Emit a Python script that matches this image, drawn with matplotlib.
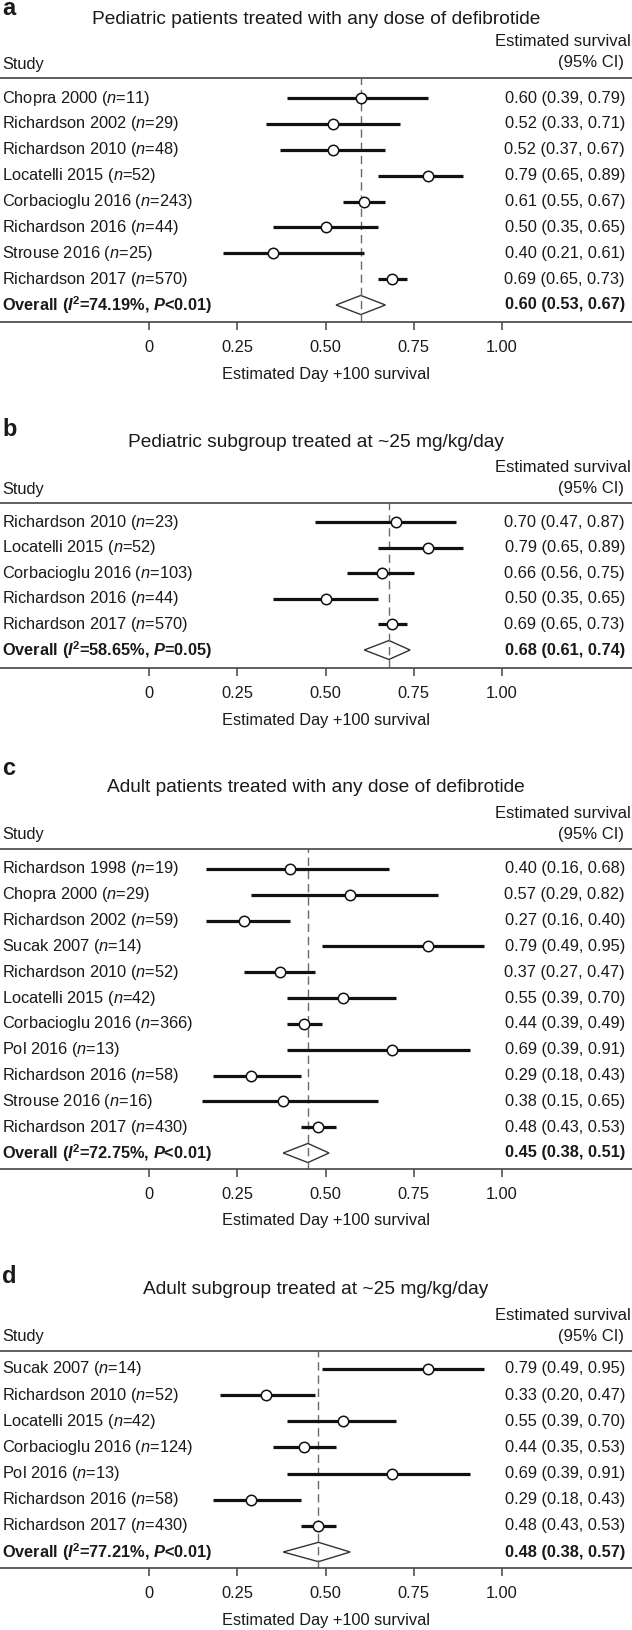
import matplotlib
matplotlib.use("Agg")
import matplotlib.pyplot as plt
from matplotlib.patches import Polygon

plt.rcParams['font.family'] = ['Liberation Sans', 'DejaVu Sans']
plt.rcParams['mathtext.fontset'] = 'custom'
plt.rcParams['mathtext.rm'] = 'Liberation Sans'
plt.rcParams['mathtext.it'] = 'Liberation Sans:italic'
plt.rcParams['mathtext.bf'] = 'Liberation Sans:bold'
plt.rcParams['mathtext.bfit'] = 'Liberation Sans:italic:bold'

# ---------------- data ----------------
titles = [
    "Pediatric patients treated with any dose of defibrotide",
    "Pediatric subgroup treated at ~25 mg/kg/day",
    "Adult patients treated with any dose of defibrotide",
    "Adult subgroup treated at ~25 mg/kg/day",
]
panel_letters = ["a", "b", "c", "d"]

studies_a = ["Chopra 2000", "Richardson 2002", "Richardson 2010", "Locatelli 2015",
             "Corbacioglu 2016", "Richardson 2016", "Strouse 2016", "Richardson 2017"]
n_a = [11, 29, 48, 52, 243, 44, 25, 570]
est_a = [0.60, 0.52, 0.52, 0.79, 0.61, 0.50, 0.35, 0.69]
lo_a = [0.39, 0.33, 0.37, 0.65, 0.55, 0.35, 0.21, 0.65]
hi_a = [0.79, 0.71, 0.67, 0.89, 0.67, 0.65, 0.61, 0.73]
ci_text_a = ["0.60 (0.39, 0.79)", "0.52 (0.33, 0.71)", "0.52 (0.37, 0.67)", "0.79 (0.65, 0.89)",
             "0.61 (0.55, 0.67)", "0.50 (0.35, 0.65)", "0.40 (0.21, 0.61)", "0.69 (0.65, 0.73)"]
overall_a = (0.60, 0.53, 0.67)
overall_text_a = "0.60 (0.53, 0.67)"
i2_a, p_a = "74.19%", "<0.01"

studies_b = ["Richardson 2010", "Locatelli 2015", "Corbacioglu 2016", "Richardson 2016", "Richardson 2017"]
n_b = [23, 52, 103, 44, 570]
est_b = [0.70, 0.79, 0.66, 0.50, 0.69]
lo_b = [0.47, 0.65, 0.56, 0.35, 0.65]
hi_b = [0.87, 0.89, 0.75, 0.65, 0.73]
ci_text_b = ["0.70 (0.47, 0.87)", "0.79 (0.65, 0.89)", "0.66 (0.56, 0.75)",
             "0.50 (0.35, 0.65)", "0.69 (0.65, 0.73)"]
overall_b = (0.68, 0.61, 0.74)
overall_text_b = "0.68 (0.61, 0.74)"
i2_b, p_b = "58.65%", "=0.05"

studies_c = ["Richardson 1998", "Chopra 2000", "Richardson 2002", "Sucak 2007", "Richardson 2010",
             "Locatelli 2015", "Corbacioglu 2016", "Pol 2016", "Richardson 2016", "Strouse 2016",
             "Richardson 2017"]
n_c = [19, 29, 59, 14, 52, 42, 366, 13, 58, 16, 430]
est_c = [0.40, 0.57, 0.27, 0.79, 0.37, 0.55, 0.44, 0.69, 0.29, 0.38, 0.48]
lo_c = [0.16, 0.29, 0.16, 0.49, 0.27, 0.39, 0.39, 0.39, 0.18, 0.15, 0.43]
hi_c = [0.68, 0.82, 0.40, 0.95, 0.47, 0.70, 0.49, 0.91, 0.43, 0.65, 0.53]
ci_text_c = ["0.40 (0.16, 0.68)", "0.57 (0.29, 0.82)", "0.27 (0.16, 0.40)", "0.79 (0.49, 0.95)",
             "0.37 (0.27, 0.47)", "0.55 (0.39, 0.70)", "0.44 (0.39, 0.49)", "0.69 (0.39, 0.91)",
             "0.29 (0.18, 0.43)", "0.38 (0.15, 0.65)", "0.48 (0.43, 0.53)"]
overall_c = (0.45, 0.38, 0.51)
overall_text_c = "0.45 (0.38, 0.51)"
i2_c, p_c = "72.75%", "<0.01"

studies_d = ["Sucak 2007", "Richardson 2010", "Locatelli 2015", "Corbacioglu 2016", "Pol 2016",
             "Richardson 2016", "Richardson 2017"]
n_d = [14, 52, 42, 124, 13, 58, 430]
est_d = [0.79, 0.33, 0.55, 0.44, 0.69, 0.29, 0.48]
lo_d = [0.49, 0.20, 0.39, 0.35, 0.39, 0.18, 0.43]
hi_d = [0.95, 0.47, 0.70, 0.53, 0.91, 0.43, 0.53]
ci_text_d = ["0.79 (0.49, 0.95)", "0.33 (0.20, 0.47)", "0.55 (0.39, 0.70)", "0.44 (0.35, 0.53)",
             "0.69 (0.39, 0.91)", "0.29 (0.18, 0.43)", "0.48 (0.43, 0.53)"]
overall_d = (0.48, 0.38, 0.57)
overall_text_d = "0.48 (0.38, 0.57)"
i2_d, p_d = "77.21%", "<0.01"

xticks = [0, 0.25, 0.50, 0.75, 1.00]
xtick_labels = ["0", "0.25", "0.50", "0.75", "1.00"]
xlabel = "Estimated Day +100 survival"
col_study = "Study"
col_est = "Estimated survival"
col_ci = "(95% CI)"

panels = [
    (studies_a, n_a, est_a, lo_a, hi_a, ci_text_a, overall_a, overall_text_a, i2_a, p_a),
    (studies_b, n_b, est_b, lo_b, hi_b, ci_text_b, overall_b, overall_text_b, i2_b, p_b),
    (studies_c, n_c, est_c, lo_c, hi_c, ci_text_c, overall_c, overall_text_c, i2_c, p_c),
    (studies_d, n_d, est_d, lo_d, hi_d, ci_text_d, overall_d, overall_text_d, i2_d, p_d),
]

# ---------------- layout (pixels) ----------------
W, H = 632, 1630
# top rule, first row, last row, bottom rule
geom = [(78, 98, 305, 322), (503, 522, 650, 668), (849, 869, 1153, 1169), (1351, 1369, 1552, 1568)]
title_off = [-58, -61, -61, -61]
letter_off = [-63, -67, -74, -68]
x0_px, x1_px = 149.3, 501.7

TXT = '#1a1a1a'
LBL = 11.8
fig = plt.figure(figsize=(W / 100, H / 100), dpi=100)

for k, (studies, ns, est, lo, hi, ci_txt, ov, ov_txt, i2, pv) in enumerate(panels):
    top, r0, rl, bot = geom[k]
    nrow = len(studies) + 1
    sp = (rl - r0) / (nrow - 1)
    ax = fig.add_axes([0, 1 - bot / H, 1, (bot - top) / H])
    ax.set_facecolor('none')
    unit = x1_px - x0_px
    ax.set_xlim(-x0_px / unit, (W - x0_px) / unit)
    ax.set_ylim((bot - r0) / sp, (top - r0) / sp)
    for s in ['left', 'right']:
        ax.spines[s].set_visible(False)
    for s in ['top', 'bottom']:
        ax.spines[s].set_color('#444444')
        ax.spines[s].set_linewidth(1.2)
    ax.set_yticks([])
    ax.set_xticks(xticks)
    ax.set_xticklabels(xtick_labels, fontsize=11.8, color=TXT)
    ax.tick_params(axis='x', direction='out', length=6, width=1.1, color='#444444', pad=7)

    ys = list(range(len(studies)))
    oy = len(studies)
    # reference line
    ax.axvline(ov[0], color='#6a6a6a', lw=1.0, ls=(0, (6, 3.5)), zorder=2)
    # CI lines and points
    ax.hlines(ys, lo, hi, color='#111111', lw=2.3, zorder=3)
    ax.plot(est, ys, 'o', ms=7.5, mfc='white', mec='#111111', mew=1.1, zorder=4)
    # diamond
    h = 0.37
    dia = Polygon([(ov[1], oy), (ov[0], oy - h), (ov[2], oy), (ov[0], oy + h)],
                  closed=True, facecolor='white', edgecolor='#333333', lw=1.0, zorder=1)
    ax.add_patch(dia)

    tr = ax.get_yaxis_transform()  # x axes-frac, y data
    for i, (s, n) in enumerate(zip(studies, ns)):
        ax.text(2 / W, i, s + r" ($\mathit{n}$=" + str(n) + ")", transform=tr,
                ha='left', va='center', fontsize=LBL, color=TXT)
        ax.text(625 / W, i, ci_txt[i], transform=tr, ha='right', va='center',
                fontsize=LBL, color=TXT)
    ax.text(2 / W, oy, r"Overall ($\mathbfit{I}^{\mathbf{2}}$=" + i2 + r", $\mathbfit{P}$" + pv + ")",
            transform=tr, ha='left', va='center', fontsize=LBL, fontweight='bold', color=TXT)
    ax.text(625 / W, oy, ov_txt, transform=tr, ha='right', va='center',
            fontsize=LBL, fontweight='bold', color=TXT)

    # headers
    def hdr(xpx, dy, s, **kw):
        ax.annotate(s, xy=(xpx / W, 1), xycoords='axes fraction', xytext=(0, -dy),
                    textcoords='offset pixels', va='center', color=TXT, **kw)
    hdr(W / 2, title_off[k], titles[k], ha='center', fontsize=13.8)
    ax.annotate(panel_letters[k], xy=(2 / W, 1), xycoords='axes fraction',
                xytext=(0, -letter_off[k]), textcoords='offset pixels', va='baseline',
                ha='left', fontsize=17, fontweight='bold', color=TXT)
    hdr(2, -14, col_study, ha='left', fontsize=LBL)
    hdr(631, -36, col_est, ha='right', fontsize=12)
    hdr(624, -15, col_ci, ha='right', fontsize=12)
    # x label
    ax.annotate(xlabel, xy=(0.5, 0), xycoords=('data', 'axes fraction'), xytext=(0, -52),
                textcoords='offset pixels', ha='center', va='center', fontsize=11.8, color=TXT)

fig.savefig("out.png", dpi=100)
